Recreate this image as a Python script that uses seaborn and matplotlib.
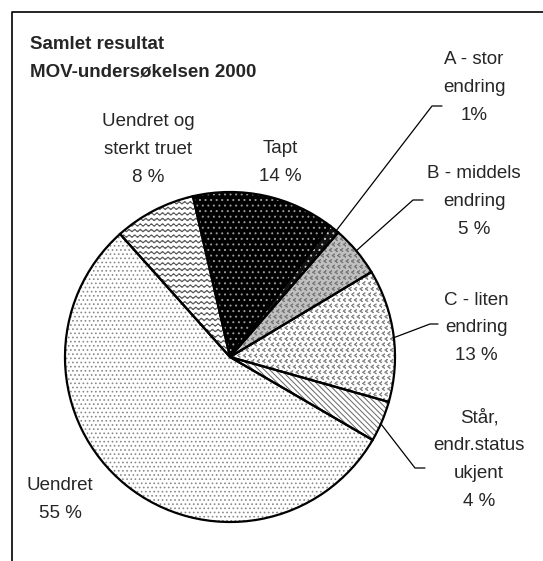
import warnings
import numpy as np
import matplotlib
matplotlib.use("Agg")
import matplotlib.pyplot as plt
from matplotlib import hatch as mhatch
from matplotlib.path import Path
import seaborn as sns

warnings.filterwarnings("ignore")

# data
categories = ["Tapt", "A - stor endring", "B - middels endring", "C - liten endring",
              "Står, endr.status ukjent", "Uendret", "Uendret og sterkt truet"]
shares = [14, 1, 5, 13, 4, 55, 8]
label_lines = [["Tapt", "14 %"],
               ["A - stor", "endring", "1%"],
               ["B - middels", "endring", "5 %"],
               ["C - liten", "endring", "13 %"],
               ["Står,", "endr.status", "ukjent", "4 %"],
               ["Uendret", "55 %"],
               ["Uendret og", "sterkt truet", "8 %"]]
title_lines = ["Samlet resultat", "MOV-undersøkelsen 2000"]


# custom hatches: wavy lines (~) and chevrons (<)
class WaveHatch(mhatch.HatchPatternBase):
    def __init__(self, hatch, density):
        self.num_lines = int(hatch.count("~") * density)
        self.nseg = 8 * max(self.num_lines, 1)
        self.num_vertices = self.num_lines * (self.nseg + 1)

    def set_vertices_and_codes(self, vertices, codes):
        step = 1.0 / self.num_lines
        xs = np.linspace(0, 1, self.nseg + 1)
        n = self.nseg + 1
        for i in range(self.num_lines):
            ys = (i + 0.5) * step + 0.22 * step * np.sin(2 * np.pi * xs * self.num_lines)
            vertices[i * n:(i + 1) * n, 0] = xs
            vertices[i * n:(i + 1) * n, 1] = ys
            codes[i * n] = Path.MOVETO
            codes[i * n + 1:(i + 1) * n] = Path.LINETO


class ChevronHatch(mhatch.Shapes):
    size = 0.55
    shape_vertices = np.array([[0.35, 0.5], [-0.35, 0.0], [0.35, -0.5]])
    shape_codes = np.array([Path.MOVETO, Path.LINETO, Path.LINETO], dtype=Path.code_type)

    def __init__(self, hatch, density):
        self.num_rows = int(hatch.count("<") * density)
        super().__init__(hatch, density)


mhatch._hatch_types.extend([WaveHatch, ChevronHatch])

sns.set_theme(style="white")
plt.rcParams["font.family"] = ["Liberation Sans", "DejaVu Sans"]
plt.rcParams["hatch.linewidth"] = 0.7

faces = ["black", "#111111", "#c0c0c0", "white", "white", "white", "white"]
hcols = ["#9a9a9a", "#cccccc", "#7a7a7a", "#8a8a8a", "#666666", "#8a8a8a", "#555555"]
hatches = ["...", "...", "<<<", "<<<", "\\" * 6, "....", "~~~"]

fig = plt.figure(figsize=(5.43, 5.61), dpi=100)
ax = fig.add_axes([0, 0, 1, 1])

H = 561
cx, cy, r = 230, H - 357, 165

wedges, _ = ax.pie(shares, center=(cx, cy), radius=r, startangle=103,
                   counterclock=False, colors=faces,
                   wedgeprops=dict(linewidth=0))
for w, hc, ht in zip(wedges, hcols, hatches):
    w.set_edgecolor(hc)
    w.set_hatch(ht)
ax.pie(shares, center=(cx, cy), radius=r, startangle=103, counterclock=False,
       wedgeprops=dict(fill=False, edgecolor="black", linewidth=1.6))

ax.set_xlim(0, 543)
ax.set_ylim(0, H)
ax.set_aspect("equal")
ax.axis("off")

# frame (top and left only visible)
ax.plot([12, 12, 543], [0, H - 12, H - 12], color="black", lw=1.2)

# title
for i, t in enumerate(title_lines):
    ax.text(30, H - (44 + 28 * i), t, fontsize=13.5, fontweight="bold",
            ha="left", va="center")

# label anchors (center x, first line y), in pixels from the top
label_pos = [(280, 148), (474, 59), (474, 173), (476, 300), (479, 418), (60, 485), (148, 121)]
for lines, (lx, ly) in zip(label_lines, label_pos):
    for j, t in enumerate(lines):
        ax.text(lx, H - (ly + 28 * j), t, fontsize=13.5, ha="center", va="center")

# leader lines
leaders = [[(336, 231), (432, 106), (442, 106)],
           [(356, 251), (413, 200), (423, 200)],
           [(393, 338), (430, 324), (438, 324)],
           [(381, 424), (415, 468), (425, 468)]]
for pts in leaders:
    xs = [p[0] for p in pts]
    ys = [H - p[1] for p in pts]
    ax.plot(xs, ys, color="black", lw=0.9)

fig.savefig("out.png", dpi=100)
